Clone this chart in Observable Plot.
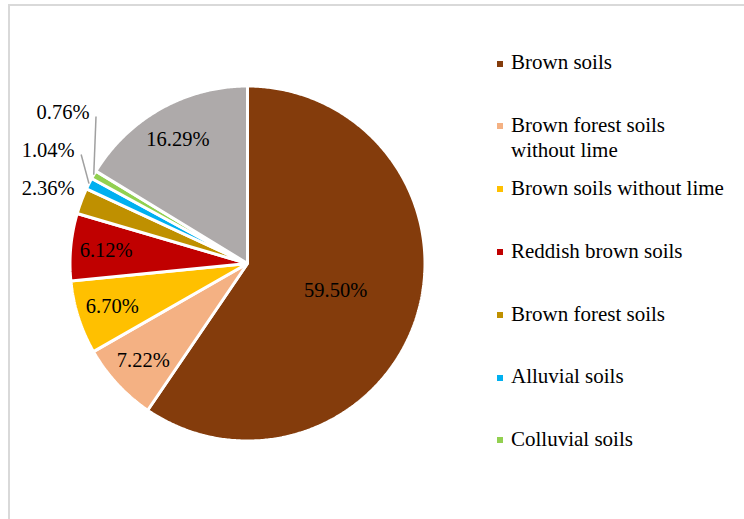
<!DOCTYPE html>
<html><head><meta charset="utf-8">
<script src="https://cdn.jsdelivr.net/npm/d3@7"></script>
<script src="https://cdn.jsdelivr.net/npm/@observablehq/plot@0.6"></script>
<style>
body{margin:0;background:#fff;}
#wrap{position:relative;width:744px;height:519px;overflow:hidden;font-family:"Liberation Serif","Times New Roman",serif;background:#fff;}
#frame{position:absolute;left:8px;top:4px;width:800px;height:600px;border-top:2px solid #d9d9d9;border-left:2px solid #d9d9d9;}
#chart{position:absolute;left:0;top:0;}
.leg{position:absolute;left:511px;font-size:21px;line-height:25px;color:#000;white-space:nowrap;}
.sw{position:absolute;left:497px;width:6px;height:6px;}
</style></head><body>
<div id="wrap"><div id="frame"></div><div id="chart"></div></div>
<script>
// ---- data ----
const categories = ["Brown soils","Brown forest soils without lime","Brown soils without lime","Reddish brown soils","Brown forest soils","Alluvial soils","Colluvial soils","Unlabelled"];
const values = [59.50, 7.22, 6.70, 6.12, 2.36, 1.04, 0.76, 16.29];
const valueLabels = ["59.50%","7.22%","6.70%","6.12%","2.36%","1.04%","0.76%","16.29%"];
const legendLabels = [["Brown soils"],["Brown forest soils","without lime"],["Brown soils without lime"],["Reddish brown soils"],["Brown forest soils"],["Alluvial soils"],["Colluvial soils"]];
const palette = ["#843C0C","#F4B183","#FFC000","#C00000","#BF9000","#00B0F0","#92D050","#AEAAAA"];

// ---- layout ----
const CX = 247, CY = 263, R = 177.5;
const arcs = d3.pie().sort(null).value(d => d)(values);

// slice polygons in unit coordinates (angle clockwise from 12 o'clock)
const pts = [];
arcs.forEach((a, i) => {
  const name = categories[i];
  pts.push({name, x: 0, y: 0});
  const n = Math.max(2, Math.ceil((a.endAngle - a.startAngle) / (Math.PI / 360)));
  for (let k = 0; k <= n; k++) {
    const t = a.startAngle + (a.endAngle - a.startAngle) * k / n;
    pts.push({name, x: Math.sin(t), y: Math.cos(t)});
  }
});

// labels
const maxV = d3.max(values);
const labels = [];
const leaders = [];
let prevOutside = null;
arcs.forEach((a, i) => {
  const mid = (a.startAngle + a.endAngle) / 2;
  const v = values[i];
  if (v >= 5) {
    const rf = v === maxV ? 0.52 : 0.8;
    labels.push({text: valueLabels[i], x: rf * Math.sin(mid), y: rf * Math.cos(mid)});
  } else {
    const rf = 1.2;
    let x = rf * Math.sin(mid), y = rf * Math.cos(mid);
    let moved = false;
    if (prevOutside && y < prevOutside.y + 38 / R) {
      y = prevOutside.y + 38 / R;
      if (!prevOutside.moved) x = prevOutside.x;
      moved = true;
    }
    prevOutside = {x, y, moved};
    labels.push({text: valueLabels[i], x, y});
    if (moved) {
      leaders.push({x1: x + 33 / R, y1: y - 4 / R, x2: 1.0 * Math.sin(mid), y2: 1.0 * Math.cos(mid)});
    }
  }
});

const chart = Plot.plot({
  width: 744, height: 519,
  margin: 0,
  x: {domain: [-1, 1], range: [CX - R, CX + R], axis: null},
  y: {domain: [-1, 1], range: [CY + R, CY - R], axis: null},
  color: {domain: categories, range: palette},
  style: {background: "transparent", fontFamily: "'Liberation Serif','Times New Roman',serif"},
  marks: [
    Plot.line(pts, {x: "x", y: "y", z: "name", fill: "name", stroke: "white", strokeWidth: 3, curve: "linear-closed", strokeLinejoin: "miter"}),
    Plot.link(leaders, {x1: "x1", y1: "y1", x2: "x2", y2: "y2", stroke: "#a0a0a0", strokeWidth: 1.5}),
    Plot.text(labels, {x: "x", y: "y", text: "text", fill: "#000", fontSize: 20.5})
  ]
});
document.getElementById("chart").appendChild(chart);

// legend (HTML)
const wrap = document.getElementById("wrap");
legendLabels.forEach((lines, i) => {
  const baseline = 70 + 62.8 * i;
  const sw = document.createElement("div");
  sw.className = "sw";
  sw.style.top = (baseline - 9.5) + "px";
  sw.style.background = palette[i];
  wrap.appendChild(sw);
  const t = document.createElement("div");
  t.className = "leg";
  t.style.top = (baseline - 19.6) + "px";
  t.innerHTML = lines.join("<br>");
  wrap.appendChild(t);
});
</script>
</body></html>
